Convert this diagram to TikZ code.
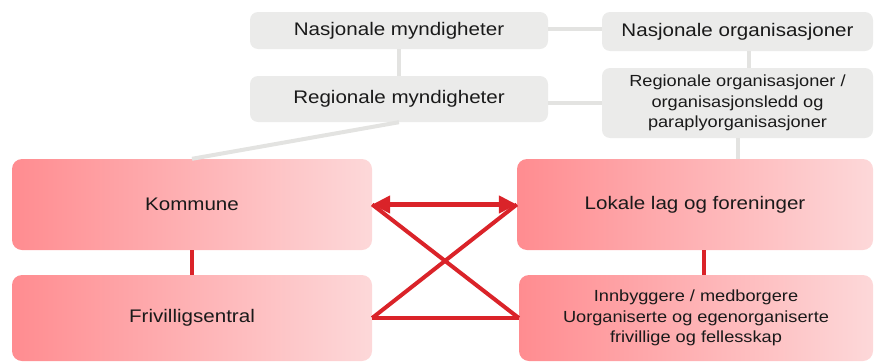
\documentclass[tikz,border=0pt]{standalone}
\usepackage{fontspec}
\setmainfont{Liberation Sans}[FakeStretch=1.13]
\usetikzlibrary{arrows.meta}

\definecolor{boksgraa}{HTML}{EBEBEA}
\definecolor{linjegraa}{HTML}{E3E3E1}
\definecolor{rosamork}{HTML}{FF8C90}
\definecolor{rosalys}{HTML}{FDD8D9}
\definecolor{linjerod}{HTML}{DA2329}
\definecolor{tekst}{HTML}{1A1A1A}

\tikzset{
  graaboks/.style={rounded corners=8pt, fill=boksgraa, text=tekst, align=center,
    font=\fontsize{18.2}{21}\selectfont, inner sep=0pt},
  rodboks/.style={rounded corners=10pt, left color=rosamork, right color=rosalys,
    text=tekst, align=center, font=\fontsize{18.2}{21}\selectfont, inner sep=0pt},
  liten/.style={font=\fontsize{16.1}{20.5}\selectfont},
  graalinje/.style={draw=linjegraa, line width=4pt},
  rodlinje/.style={draw=linjerod, line width=4pt}
}

\begin{document}
\begin{tikzpicture}[x=1pt, y=-1pt]
  \useasboundingbox (0, 0) rectangle (874, 362);

  % Myndigheter og organisasjoner
  \node[graaboks, minimum width=298pt, minimum height=37pt] (nm) at (399, 30.5) {Nasjonale myndigheter};
  \node[graaboks, minimum width=271pt, minimum height=39pt] (no) at (737.5, 31.5) {Nasjonale organisasjoner};
  \node[graaboks, minimum width=298pt, minimum height=46pt] (rm) at (399, 99) {Regionale myndigheter};
  \node[graaboks, liten, minimum width=271pt, minimum height=70pt] (ro) at (737.5, 103)
    {Regionale organisasjoner /\\organisasjonsledd og\\paraplyorganisasjoner};

  % Lokalt nivaa
  \node[rodboks, minimum width=360pt, minimum height=91pt] (kom) at (192, 204.5) {Kommune};
  \node[rodboks, minimum width=360pt, minimum height=86pt] (fri) at (192, 318) {Frivilligsentral};
  \node[rodboks, minimum width=356pt, minimum height=91pt] (lok) at (695, 204.5) {Lokale lag og foreninger};
  \node[rodboks, liten, minimum width=354pt, minimum height=86pt] (inn) at (696, 318)
    {Innbyggere / medborgere\\Uorganiserte og egenorganiserte\\frivillige og fellesskap};

  % Graa linjer
  \draw[graalinje] (nm.east |- 0, 29) -- (no.west |- 0, 29);
  \draw[graalinje] (nm.south) -- (rm.north);
  \draw[graalinje] (rm.east |- ro.west) -- (ro.west);
  \draw[graalinje] ([xshift=11pt]no.south) -- ([xshift=11pt]no.south |- ro.north);
  \draw[graalinje] (ro.south) -- (ro.south |- lok.north);
  \draw[graalinje] (rm.south) -- (kom.north);

  % Rode linjer og piler
  \draw[rodlinje] (kom.south) -- (fri.north);
  \draw[rodlinje] ([xshift=9pt]lok.south) -- ([xshift=9pt]lok.south |- inn.north);
  \draw[rodlinje, line width=5pt, {Triangle[length=18pt, width=17pt]}-{Triangle[length=18pt, width=17pt]}]
    (kom.east) -- (lok.west);
  \draw[rodlinje] (kom.east) -- (inn.west);
  \draw[rodlinje] (lok.west) -- (fri.east);
  \draw[rodlinje] (fri.east) -- (inn.west);
\end{tikzpicture}
\end{document}
